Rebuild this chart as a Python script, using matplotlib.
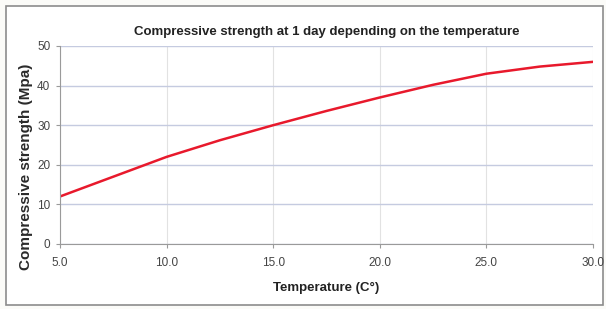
import matplotlib.pyplot as plt
from matplotlib.patches import Rectangle

temperature = [5.0, 7.5, 10.0, 12.5, 15.0, 17.5, 20.0, 22.5, 25.0, 27.5, 30.0]
strength = [12.0, 17.0, 22.0, 26.2, 30.0, 33.6, 37.0, 40.2, 43.0, 44.8, 46.0]
x_ticks = [5.0, 10.0, 15.0, 20.0, 25.0, 30.0]
y_ticks = [0, 10, 20, 30, 40, 50]

plt.rcParams['font.family'] = ['Liberation Sans', 'DejaVu Sans']

fig = plt.figure(figsize=(6.06, 3.09), dpi=100)
fig.patch.set_facecolor('#fbfbf8')
# outer chart frame
frame = Rectangle((6 / 606, 4 / 309), 597 / 606, 299 / 309,
                  transform=fig.transFigure, facecolor='white',
                  edgecolor='#8c8c8c', lw=1.2, zorder=-1)
fig.add_artist(frame)

ax = fig.add_axes([60 / 606, 65 / 309, 533 / 606, 198 / 309])
ax.set_zorder(1)
ax.plot(temperature, strength, color='#e8192c', lw=1.8)

ax.set_xlim(5, 30)
ax.set_ylim(0, 50)
ax.set_xticks(x_ticks)
ax.set_xticklabels([f"{t:.1f}" for t in x_ticks])
ax.set_yticks(y_ticks)
ax.grid(axis='y', color='#c5cbe0', lw=1)
ax.grid(axis='x', color='#e2e2e2', lw=0.8)
ax.set_axisbelow(True)
for s in ['top', 'right']:
    ax.spines[s].set_visible(False)
for s in ['left', 'bottom']:
    ax.spines[s].set_color('#9a9a9a')
ax.tick_params(length=3, color='#9a9a9a', labelsize=8.5, labelcolor='#444444')
ax.tick_params(axis='x', pad=6)
ax.tick_params(axis='y', pad=4)

ax.set_title("Compressive strength at 1 day depending on the temperature",
             fontsize=9.5, fontweight='bold', color='#222222', pad=8)
ax.set_xlabel("Temperature (C°)", fontsize=9.5, fontweight='bold', color='#222222', labelpad=10)
ax.set_ylabel("Compressive strength (Mpa)", fontsize=11, fontweight='bold', color='#2a2a2a')
ax.yaxis.set_label_coords(-0.05, 0.39)

fig.savefig("out.png", dpi=100)
